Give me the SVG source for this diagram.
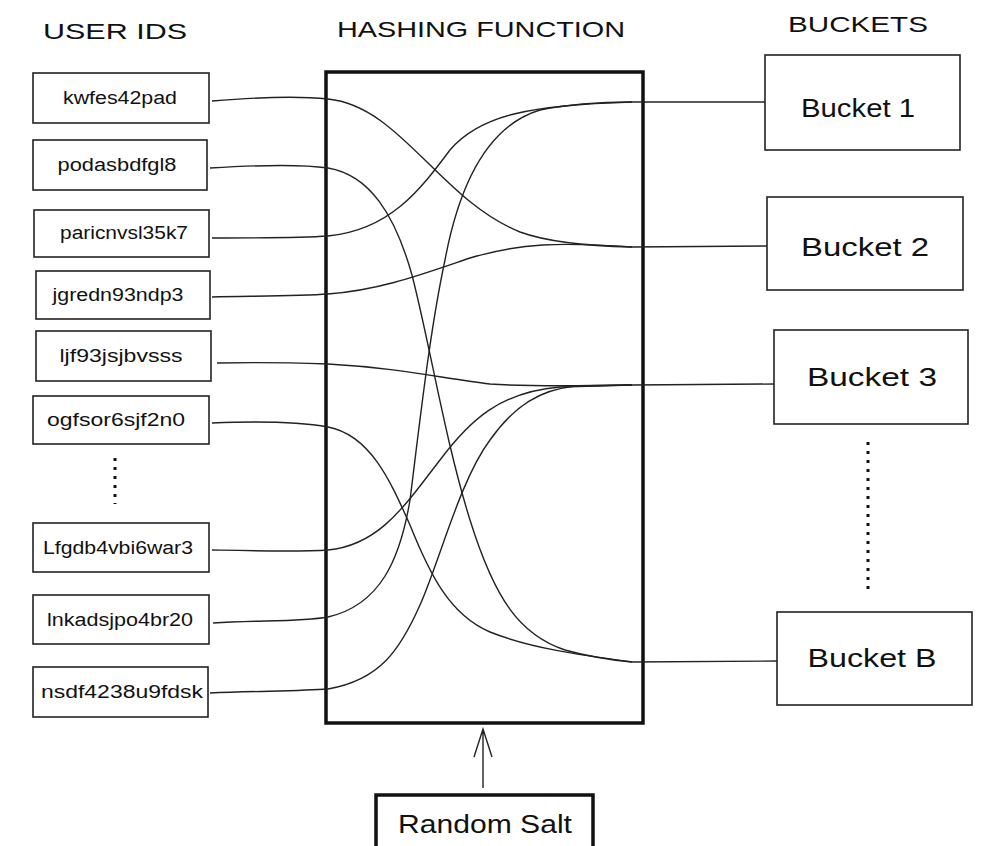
<svg xmlns="http://www.w3.org/2000/svg" width="982" height="846" viewBox="0 0 982 846">
<style>
.box{fill:#fff;stroke:#222;stroke-width:1.6}
.thick{fill:#fff;stroke:#111;stroke-width:3.5}
.id{font-family:"Liberation Sans",Arial,sans-serif;font-size:18px;fill:#111;text-anchor:middle}
.bk{font-family:"Liberation Sans",Arial,sans-serif;font-size:26px;fill:#111;text-anchor:middle}
.hd{font-family:"Liberation Sans",Arial,sans-serif;font-size:22px;fill:#111;text-anchor:middle}
.con{fill:none;stroke:#222;stroke-width:1.4}
.dots{fill:none;stroke:#111;stroke-width:3;stroke-dasharray:3 6}
</style>
<rect width="982" height="846" fill="#fff"/>
<g id="headings">
<text class="hd" x="115" y="39" textLength="144" lengthAdjust="spacingAndGlyphs">USER IDS</text>
<text class="hd" x="481" y="37" textLength="288" lengthAdjust="spacingAndGlyphs">HASHING FUNCTION</text>
<text class="hd" x="858" y="32" textLength="140" lengthAdjust="spacingAndGlyphs">BUCKETS</text>
</g>
<g id="hash">
<rect class="thick" x="326" y="72" width="317" height="651"/>
</g>
<g id="connectors">
<path class="con" d="M212,101 C260,97 300,96 328,99 C400,106 440,200 520,232 C550,243 590,246 632,247"/>
<path class="con" d="M210,168 C260,165 300,164 328,168 C370,175 395,215 412,275 C430,345 445,440 470,520 C495,600 520,635 565,650 C590,657 610,660 632,662"/>
<path class="con" d="M212,238 C260,238 300,238 328,236 C390,230 420,190 450,150 C480,115 530,105 632,102"/>
<path class="con" d="M212,297 C260,296 300,296 328,294 C380,290 420,275 470,258 C520,243 560,242 632,247"/>
<path class="con" d="M217,363 C260,362 300,363 328,364 C400,368 440,378 490,384 C530,387 580,386 632,385"/>
<path class="con" d="M212,423 C260,421 300,422 328,427 C370,435 390,480 410,525 C430,575 450,615 490,632 C530,648 580,655 632,662"/>
<path class="con" d="M212,550 C260,551 300,552 328,550 C380,545 405,505 440,460 C470,420 500,392 560,387 L632,385"/>
<path class="con" d="M213,623 C260,620 300,622 328,617 C380,605 400,560 410,500 C420,420 430,330 445,260 C460,180 490,125 540,110 C570,104 600,102 632,102"/>
<path class="con" d="M210,693 C260,691 300,691 328,689 C380,680 400,650 420,605 C440,560 460,480 490,440 C515,405 540,390 575,386 L632,385"/>
<path class="con" d="M632,102 L765,102"/>
<path class="con" d="M632,247 L767,246"/>
<path class="con" d="M632,385 L774,384"/>
<path class="con" d="M632,662 L777,661"/>
<path class="con" d="M483,788 L483,729 M474,757 L483,729 L492,757" stroke-width="1.6"/>
</g>
<g id="user1"><rect class="box" x="33" y="73" width="176" height="50"/><text class="id" x="120" y="104" textLength="114" lengthAdjust="spacingAndGlyphs">kwfes42pad</text></g>
<g id="user2"><rect class="box" x="33" y="140" width="174" height="50"/><text class="id" x="117" y="171" textLength="119" lengthAdjust="spacingAndGlyphs">podasbdfgl8</text></g>
<g id="user3"><rect class="box" x="34" y="210" width="175" height="47"/><text class="id" x="124" y="239" textLength="128" lengthAdjust="spacingAndGlyphs">paricnvsl35k7</text></g>
<g id="user4"><rect class="box" x="36" y="271" width="174" height="48"/><text class="id" x="118" y="301" textLength="131" lengthAdjust="spacingAndGlyphs">jgredn93ndp3</text></g>
<g id="user5"><rect class="box" x="36" y="331" width="175" height="50"/><text class="id" x="121" y="362" textLength="123" lengthAdjust="spacingAndGlyphs">ljf93jsjbvsss</text></g>
<g id="user6"><rect class="box" x="33" y="396" width="176" height="48"/><text class="id" x="116" y="426" textLength="138" lengthAdjust="spacingAndGlyphs">ogfsor6sjf2n0</text></g>
<g id="user-dots"><path class="dots" d="M115,458 L115,504"/></g>
<g id="user7"><rect class="box" x="33" y="523" width="176" height="49"/><text class="id" x="118" y="554" textLength="150" lengthAdjust="spacingAndGlyphs">Lfgdb4vbi6war3</text></g>
<g id="user8"><rect class="box" x="33" y="595" width="176" height="49"/><text class="id" x="120" y="626" textLength="146" lengthAdjust="spacingAndGlyphs">lnkadsjpo4br20</text></g>
<g id="user9"><rect class="box" x="33" y="667" width="175" height="50"/><text class="id" x="122" y="698" textLength="162" lengthAdjust="spacingAndGlyphs">nsdf4238u9fdsk</text></g>
<g id="bucket1"><rect class="box" x="765" y="55" width="195" height="95"/><text class="bk" x="858" y="117" textLength="114" lengthAdjust="spacingAndGlyphs">Bucket 1</text></g>
<g id="bucket2"><rect class="box" x="767" y="197" width="196" height="93"/><text class="bk" x="865" y="256" textLength="128" lengthAdjust="spacingAndGlyphs">Bucket 2</text></g>
<g id="bucket3"><rect class="box" x="774" y="330" width="194" height="94"/><text class="bk" x="872" y="386" textLength="130" lengthAdjust="spacingAndGlyphs">Bucket 3</text></g>
<g id="bucket-dots"><path class="dots" d="M868,442 L868,590"/></g>
<g id="bucketB"><rect class="box" x="777" y="612" width="195" height="93"/><text class="bk" x="872" y="667" textLength="129" lengthAdjust="spacingAndGlyphs">Bucket B</text></g>
<g id="salt"><rect class="thick" x="376" y="795" width="217" height="60" stroke-width="3"/><text class="bk" x="485" y="833" font-size="24" textLength="174" lengthAdjust="spacingAndGlyphs">Random Salt</text></g>
</svg>
